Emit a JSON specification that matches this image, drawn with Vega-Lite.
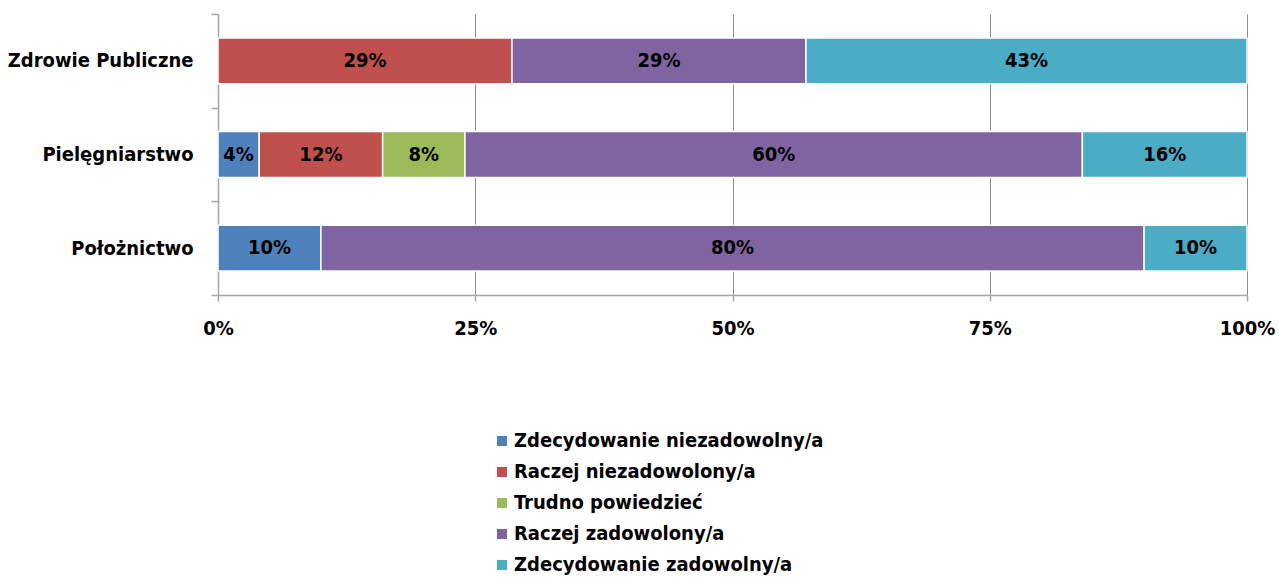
{
  "$schema": "https://vega.github.io/schema/vega-lite/v6.json",
  "autosize": {"type": "none"},
  "width": 1029,
  "height": 281,
  "padding": {"left": 218, "top": 14, "right": 32, "bottom": 284},
  "background": "white",
  "config": {
    "font": "DejaVu Sans Condensed",
    "view": {"stroke": null}
  },
  "data": {
    "values": [
      {"kierunek": "Zdrowie Publiczne", "odpowiedz": "Raczej niezadowolony/a", "idx": 2, "v": 0.2857},
      {"kierunek": "Zdrowie Publiczne", "odpowiedz": "Raczej zadowolony/a", "idx": 4, "v": 0.2857},
      {"kierunek": "Zdrowie Publiczne", "odpowiedz": "Zdecydowanie zadowolny/a", "idx": 5, "v": 0.4286},
      {"kierunek": "Pielęgniarstwo", "odpowiedz": "Zdecydowanie niezadowolny/a", "idx": 1, "v": 0.04},
      {"kierunek": "Pielęgniarstwo", "odpowiedz": "Raczej niezadowolony/a", "idx": 2, "v": 0.12},
      {"kierunek": "Pielęgniarstwo", "odpowiedz": "Trudno powiedzieć", "idx": 3, "v": 0.08},
      {"kierunek": "Pielęgniarstwo", "odpowiedz": "Raczej zadowolony/a", "idx": 4, "v": 0.60},
      {"kierunek": "Pielęgniarstwo", "odpowiedz": "Zdecydowanie zadowolny/a", "idx": 5, "v": 0.16},
      {"kierunek": "Położnictwo", "odpowiedz": "Zdecydowanie niezadowolny/a", "idx": 1, "v": 0.10},
      {"kierunek": "Położnictwo", "odpowiedz": "Raczej zadowolony/a", "idx": 4, "v": 0.80},
      {"kierunek": "Położnictwo", "odpowiedz": "Zdecydowanie zadowolny/a", "idx": 5, "v": 0.10}
    ]
  },
  "transform": [
    {"stack": "v", "groupby": ["kierunek"], "sort": [{"field": "idx", "order": "ascending"}], "as": ["x0", "x1"]},
    {"calculate": "(datum.x0 + datum.x1) / 2", "as": "xm"}
  ],
  "encoding": {
    "y": {
      "field": "kierunek",
      "type": "nominal",
      "sort": ["Zdrowie Publiczne", "Pielęgniarstwo", "Położnictwo"],
      "title": null,
      "scale": {"paddingInner": 0, "paddingOuter": 0},
      "axis": {
        "tickBand": "extent",
        "domainColor": "#A6A6A6",
        "domainWidth": 1.5,
        "tickColor": "#A6A6A6",
        "tickWidth": 1.5,
        "tickSize": 7,
        "labelPadding": 18,
        "labelLimit": 400,
        "labelFont": "DejaVu Sans Condensed",
        "labelFontWeight": "bold",
        "labelFontSize": 20,
        "labelColor": "black"
      }
    }
  },
  "layer": [
    {
      "mark": {"type": "bar", "stroke": "white", "strokeWidth": 1.5, "height": {"band": 0.49}},
      "encoding": {
        "x": {
          "field": "x0",
          "type": "quantitative",
          "scale": {"domain": [0, 1], "nice": false},
          "title": null,
          "axis": {
            "values": [0, 0.25, 0.5, 0.75, 1],
            "format": ".0%",
            "grid": true,
            "gridColor": "#8C8C8C",
            "gridWidth": 1,
            "domainColor": "#A6A6A6",
            "domainWidth": 1.5,
            "tickColor": "#A6A6A6",
            "tickWidth": 1.5,
            "tickSize": 6,
            "labelPadding": 17,
            "labelFont": "DejaVu Sans Condensed",
            "labelFontWeight": "bold",
            "labelFontSize": 20,
            "labelColor": "black",
            "labelFlush": false
          }
        },
        "x2": {"field": "x1"},
        "color": {
          "field": "odpowiedz",
          "type": "nominal",
          "scale": {
            "domain": ["Zdecydowanie niezadowolny/a", "Raczej niezadowolony/a", "Trudno powiedzieć", "Raczej zadowolony/a", "Zdecydowanie zadowolny/a"],
            "range": ["#4F81BD", "#C0504D", "#9BBB59", "#8064A2", "#4BACC6"]
          },
          "legend": {
            "title": null,
            "orient": "none",
            "legendX": 274,
            "legendY": 417,
            "direction": "vertical",
            "symbolType": "square",
            "symbolSize": 100,
            "symbolStrokeWidth": 0,
            "rowPadding": 11,
            "labelFont": "DejaVu Sans Condensed",
            "labelFontWeight": "bold",
            "labelFontSize": 20,
            "labelColor": "black",
            "labelOffset": 2,
            "labelLimit": 500
          }
        }
      }
    },
    {
      "mark": {"type": "text", "font": "DejaVu Sans Condensed", "fontWeight": "bold", "fontSize": 20, "color": "black", "baseline": "middle"},
      "encoding": {
        "x": {"field": "xm", "type": "quantitative"},
        "text": {"field": "v", "type": "quantitative", "format": ".0%"}
      }
    }
  ]
}
